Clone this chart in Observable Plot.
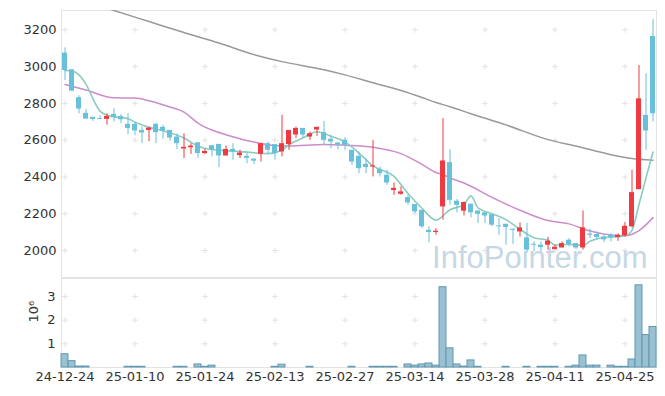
<!DOCTYPE html>
<html><head><meta charset="utf-8">
<script src="https://cdn.jsdelivr.net/npm/d3@7"></script>
<script src="https://cdn.jsdelivr.net/npm/@observablehq/plot@0.6"></script>
<style>
body{margin:0;background:#fff;}
#chart{width:665px;height:396px;overflow:hidden;}
#chart svg{display:block;}
#chart svg.vol{margin-top:-1px;}
</style></head><body><div id="chart"></div>
<script>
// Trading days (yy-mm-dd)
const dates = ["24-12-24","24-12-26","24-12-27","24-12-30","25-01-02","25-01-03","25-01-06","25-01-07","25-01-08","25-01-09",
"25-01-10","25-01-13","25-01-14","25-01-15","25-01-16","25-01-17","25-01-20","25-01-21","25-01-22","25-01-23",
"25-01-24","25-01-31","25-02-03","25-02-04","25-02-05","25-02-06","25-02-07","25-02-10","25-02-11","25-02-12",
"25-02-13","25-02-14","25-02-17","25-02-18","25-02-19","25-02-20","25-02-21","25-02-24","25-02-25","25-02-26",
"25-02-27","25-02-28","25-03-04","25-03-05","25-03-06","25-03-07","25-03-10","25-03-11","25-03-12","25-03-13",
"25-03-14","25-03-17","25-03-18","25-03-19","25-03-20","25-03-21","25-03-24","25-03-25","25-03-26","25-03-27",
"25-03-28","25-03-31","25-04-01","25-04-02","25-04-03","25-04-04","25-04-07","25-04-08","25-04-09","25-04-10",
"25-04-11","25-04-14","25-04-15","25-04-16","25-04-17","25-04-18","25-04-21","25-04-22","25-04-23","25-04-24",
"25-04-25","25-04-28","25-04-29","25-04-30","25-05-02"];
const xTickLabels = ["24-12-24","25-01-10","25-01-24","25-02-13","25-02-27","25-03-14","25-03-28","25-04-11","25-04-25"];
const yTicks = [2000,2200,2400,2600,2800,3000,3200];
const volTicks = [1e6,2e6,3e6];

const open  = [3073,2983,2831,2746,2724,2718,2713,2740,2728,2686, 2686,2653,2653,2686,2670,2653,2617,2552,2559,2586,
 2527,2570,2577,2514,2550,2516,2512,2497,2523,2581, 2576,2536,2576,2628,2664,2617,2655,2641,2605,2585,
 2599,2545,2512,2469,2454,2440,2409,2326,2306,2288, 2250,2219,2110,2098,2237,2478,2268,2214,2252,2215,
 2205,2195,2134,2143,2116,2101,2069,2034,2029,2029, 2005,2014,2056,2038,2014,2090,2087,2074,2083,2071,
 2080,2129,2331,2735,3164];
const high  = [3102,2983,2842,2766,2724,2733,2744,2771,2740,2744, 2697,2671,2668,2693,2681,2653,2635,2635,2581,2586,
 2550,2570,2577,2568,2581,2545,2527,2498,2581,2590, 2576,2735,2653,2671,2664,2644,2670,2702,2626,2585,
 2612,2545,2536,2500,2599,2454,2436,2367,2346,2300, 2250,2219,2129,2119,2717,2548,2277,2264,2252,2215,
 2205,2195,2174,2143,2116,2150,2147,2047,2047,2072, 2030,2047,2065,2038,2215,2116,2101,2087,2092,2090,
 2152,2436,3006,2961,3256];
const low   = [2924,2862,2744,2715,2702,2713,2681,2699,2690,2630, 2624,2581,2592,2581,2605,2595,2548,2500,2523,2501,
 2521,2509,2451,2514,2491,2500,2472,2467,2481,2527, 2491,2509,2545,2608,2608,2599,2621,2572,2554,2548,
 2545,2463,2418,2418,2400,2400,2355,2300,2300,2246, 2201,2120,2042,2083,2165,2246,2205,2188,2177,2147,
 2147,2129,2083,2029,2034,2074,1987,1993,1993,2002, 2005,2014,2020,2005,2002,2065,2056,2043,2047,2050,
 2074,2123,2331,2544,2699];
const close = [2979,2867,2769,2715,2713,2713,2729,2722,2711,2664, 2650,2639,2666,2641,2650,2612,2581,2561,2568,2527,
 2539,2547,2514,2550,2536,2530,2501,2486,2581,2545, 2527,2581,2653,2664,2628,2635,2670,2599,2590,2574,
 2572,2481,2445,2451,2460,2418,2367,2338,2319,2259, 2210,2129,2098,2105,2487,2273,2246,2261,2205,2197,
 2188,2138,2129,2125,2110,2123,2002,2029,2016,2051, 2018,2038,2033,2014,2123,2083,2071,2058,2071,2083,
 2132,2315,2825,2650,2744];
const volume = [560000,270000,40000,40000,0,0,0,0,0,30000, 30000,30000,0,0,0,0,30000,30000,0,130000,
 30000,80000,0,0,0,0,0,0,0,0, 30000,120000,0,0,0,30000,0,0,0,0,
 0,30000,0,0,30000,30000,30000,30000,0,130000, 80000,130000,170000,80000,3390000,810000,130000,40000,300000,30000,
 0,0,0,30000,0,0,30000,0,30000,30000, 30000,0,30000,80000,510000,80000,80000,0,80000,30000,
 30000,340000,3470000,1370000,1710000];

// Moving averages (day index, value)
const ma5Days   = [0,1,2,3,4,5,6,7,9,10,12,14,15,17,19,21,23,26,29,31,32,34,36,38,40,42,44,47,49,51,53,55,57,58,59,61,63,65,67,69,70,72,74,75,77,79,80,81,82,83,84];
const ma5Values = [2979,2976,2955,2905,2825,2758,2737,2728,2717,2698,2671,2651,2640,2612,2567,2549,2543,2535,2527,2545,2575,2613,2646,2621,2591,2530,2460,2403,2310,2230,2165,2222,2250,2297,2232,2200,2168,2115,2070,2056,2030,2033,2029,2050,2071,2075,2080,2110,2250,2395,2536];
const ma20Days   = [0,3,7,10,12,15,17,19,21,23,27,30,32,37,40,44,48,51,53,54,55,57,61,65,69,72,75,78,80,82,84];
const ma20Values = [2903,2873,2830,2829,2814,2780,2753,2693,2655,2630,2590,2571,2568,2577,2573,2562,2527,2468,2424,2412,2395,2367,2289,2219,2163,2145,2106,2084,2080,2108,2179];
const ma60Days   = [0,3,7,12,17,22,27,31,37,40,44,48,51,53,55,58,63,69,73,78,81,84];
const ma60Values = [3390,3355,3305,3245,3185,3128,3065,3027,2983,2955,2912,2870,2832,2805,2782,2744,2683,2603,2568,2521,2500,2491];

const RED = "#ee3a40", BLUE = "#68c0da";
const candles = dates.map((d, i) => ({date: d, open: open[i], high: high[i], low: low[i], close: close[i], vol: volume[i]}));
const colorOf = d => d.close >= d.open ? RED : BLUE;
const toLine = (days, vals) => days.map((k, j) => ({date: dates[k], v: vals[j]}));
const ma5 = toLine(ma5Days, ma5Values), ma20 = toLine(ma20Days, ma20Values), ma60 = toLine(ma60Days, ma60Values);

const baseStyle = {fontFamily: "DejaVu Sans, sans-serif", fontSize: "13px", color: "#333", background: "#fff", overflow: "visible"};
const gridPlus = {symbol: "plus", r: 2, stroke: "#e2e2e2", strokeWidth: 1};

const main = Plot.plot({
  width: 665, height: 278, marginTop: 10, marginBottom: 0, marginLeft: 61, marginRight: 9,
  style: baseStyle,
  x: {type: "band", domain: dates, padding: 0, axis: null},
  y: {domain: [1848, 3305], ticks: yTicks, tickFormat: d => String(d), tickSize: 0, tickPadding: 5, label: null},
  color: {type: "identity"},
  marks: [
    Plot.frame({stroke: "#e3e3e3"}),
    Plot.dot(d3.cross(xTickLabels, yTicks), {x: d => d[0], y: d => d[1], ...gridPlus}),
    Plot.text(["InfoPointer.com"], {frameAnchor: "bottom-right", dx: -9, dy: -11, lineAnchor: "bottom", fontFamily: "Liberation Sans, Arial, sans-serif", fontSize: 31, fill: "#c6d8e3"}),
    Plot.line(ma60, {x: "date", y: "v", stroke: "#999999", strokeWidth: 1.5, curve: "monotone-x", clip: true}),
    Plot.line(ma20, {x: "date", y: "v", stroke: "#cc8ccb", strokeWidth: 1.5, curve: "monotone-x", clip: true}),
    Plot.line(ma5, {x: "date", y: "v", stroke: "#8ccbbf", strokeWidth: 1.6, curve: "monotone-x", clip: true}),
    Plot.ruleX(candles, {x: "date", y1: "low", y2: "high", stroke: colorOf, strokeWidth: 1}),
    Plot.barY(candles, {x: "date", y1: "open", y2: "close", fill: colorOf, insetLeft: 1, insetRight: 1})
  ]
});

const vol = Plot.plot({
  width: 665, height: 119, marginTop: 0, marginBottom: 29, marginLeft: 61, marginRight: 9,
  style: baseStyle,
  x: {type: "band", domain: dates, padding: 0, ticks: xTickLabels, tickSize: 0, tickPadding: 4, label: null},
  y: {domain: [0, 3.8e6], ticks: volTicks, tickFormat: d => String(d / 1e6), tickSize: 0, tickPadding: 6, label: null},
  marks: [
    Plot.frame({stroke: "#e3e3e3"}),
    Plot.dot(d3.cross(xTickLabels, volTicks), {x: d => d[0], y: d => d[1], ...gridPlus}),
    Plot.barY(candles.filter(d => d.vol > 0), {x: "date", y: "vol", fill: "#8fbacd", fillOpacity: 0.9, stroke: "#6399b3", strokeWidth: 1}),
    Plot.text(["10⁶"], {frameAnchor: "left", dx: -28, rotate: -90, fill: "#333", fontSize: 13})
  ]
});
vol.classList.add("vol");

document.getElementById("chart").append(main, vol);
</script>
</body></html>
